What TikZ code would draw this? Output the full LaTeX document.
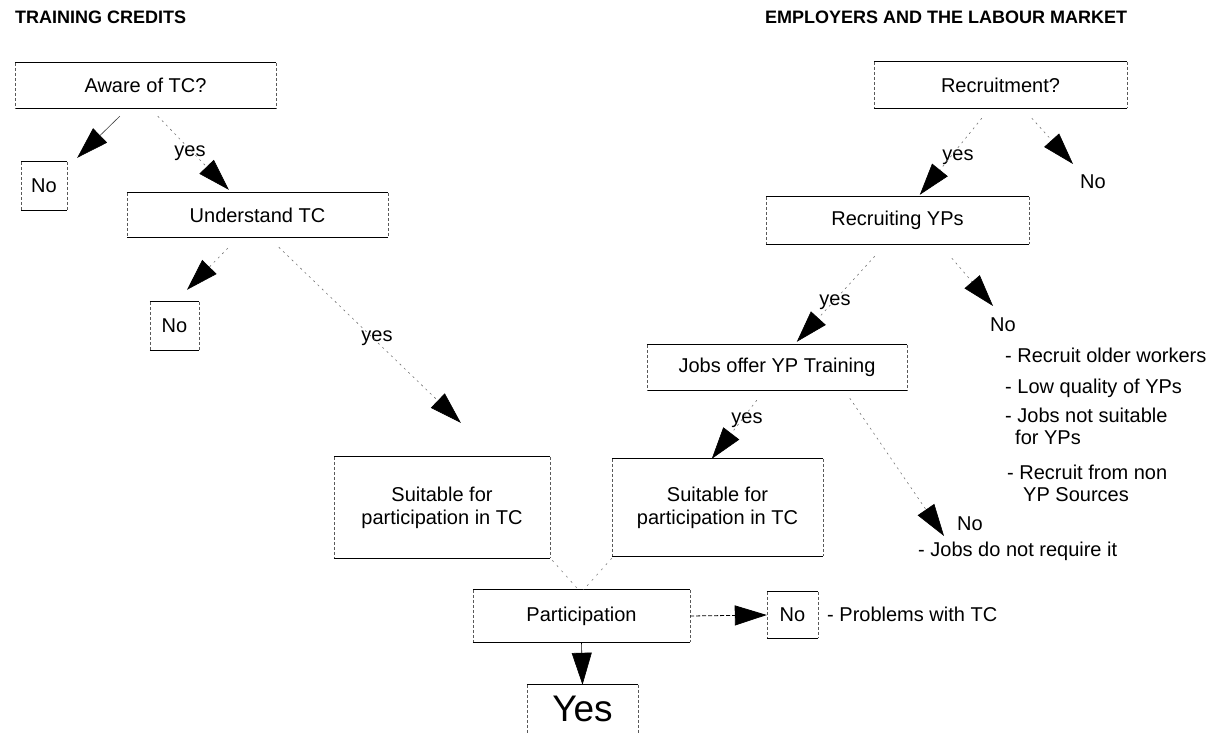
\documentclass[tikz,border=0pt]{standalone}
\usepackage{fontspec}
\setmainfont{Liberation Sans}
\usetikzlibrary{arrows.meta,calc}
\begin{document}
\begin{tikzpicture}[x=1pt,y=-1pt,
  hline/.style={draw=black,line width=1.1pt},
  vline/.style={draw=black!65,line width=0.5pt,dash pattern=on 3pt off 2pt},
  bx/.style={inner sep=0pt, font=\fontsize{20}{23}\selectfont, align=center,
    append after command={
      (\tikzlastnode.north west) edge[hline] (\tikzlastnode.north east)
      (\tikzlastnode.south west) edge[hline] (\tikzlastnode.south east)
      (\tikzlastnode.north west) edge[vline] (\tikzlastnode.south west)
      (\tikzlastnode.north east) edge[vline] (\tikzlastnode.south east)}},
  bxopen/.style={inner sep=0pt, align=center,
    append after command={
      (\tikzlastnode.north west) edge[hline] (\tikzlastnode.north east)
      (\tikzlastnode.north west) edge[vline] (\tikzlastnode.south west)
      (\tikzlastnode.north east) edge[vline] (\tikzlastnode.south east)}},
  lbl/.style={inner sep=0pt, font=\fontsize{20}{23}\selectfont},
  note/.style={inner sep=0pt, anchor=west, align=left, font=\fontsize{20}{22}\selectfont},
  hdr/.style={inner sep=0pt, anchor=west, font=\fontsize{18}{20}\selectfont\bfseries},
  tip/.style={-{Triangle[length=32pt,width=20pt,color=black]}},
  conn/.style={draw=black!55, line width=0.6pt, dash pattern=on 2pt off 4pt, tip},
  connsolid/.style={draw=black!75, line width=0.6pt, tip},
  faint/.style={draw=black!50, line width=0.6pt, dash pattern=on 2pt off 5pt},
]
\useasboundingbox (0,0) rectangle (1207,733);
\clip (0,0) rectangle (1207,733);

% headers
\node[hdr] (h1) at (15,17) {TRAINING CREDITS};
\node[hdr] (h2) at (765,17) {EMPLOYERS AND THE LABOUR MARKET};

% left boxes
\node[bx, minimum width=261pt, minimum height=45pt] (aware) at (145.5,85.5) {Aware of TC?};
\node[bx, minimum width=46pt, minimum height=48pt] (no1) at (44,186) {No};
\node[bx, minimum width=261pt, minimum height=44pt] (understand) at (257.5,215) {Understand TC};
\node[bx, minimum width=49pt, minimum height=48pt] (no2) at (174.5,326) {No};
\node[bx, minimum width=216pt, minimum height=101pt] (suitL) at (442,507.5) {Suitable for\\participation in TC};
\node[bx, minimum width=211pt, minimum height=97pt] (suitR) at (717.5,507.5) {Suitable for\\participation in TC};
\node[bx, minimum width=217pt, minimum height=52pt] (particip) at (581.5,616) {Participation};
\node[bxopen, minimum width=111pt, minimum height=48pt, font=\fontsize{37}{40}\selectfont] (yesbox) at (582.5,709) {\raisebox{-6pt}{Yes}};
\node[bx, minimum width=51pt, minimum height=46pt] (no3) at (792.5,615) {No};
\node[note] (prob) at (827,614) {- Problems with TC};

% right boxes
\node[bx, minimum width=253pt, minimum height=46pt] (recruitment) at (1000.5,85) {Recruitment?};
\node[bx, minimum width=263pt, minimum height=47pt] (recruiting) at (897.5,220.5) {Recruiting YPs};
\node[bx, minimum width=260pt, minimum height=45pt] (jobs) at (777,367.5) {Jobs offer YP Training};

% labels
\node[lbl] (yes1) at (190,153) {yes};
\node[lbl] (yes2) at (377,338) {yes};
\node[lbl] (yes3) at (958,157) {yes};
\node[lbl] (yes4) at (835,302) {yes};
\node[lbl] (yes5) at (747,420) {yes};
\node[lbl] (noR1) at (1093,182) {No};
\node[lbl] (noR2) at (1003,325) {No};
\node[lbl] (noR3) at (970,524) {No};

% notes
\node[note] (n1) at (1005,355) {- Recruit older workers};
\node[note] (n2) at (1005,388) {- Low quality of YPs};
\node[note, anchor=north west] (n3) at (1005,408) {- Jobs not suitable\\\hspace*{10pt}for YPs};
\node[note, anchor=north west] (n4) at (1007,465) {- Recruit from non\\\hspace*{16pt}YP Sources};
\node[note] (n5) at (918,551) {- Jobs do not require it};

% connectors left
\draw[connsolid] ($(aware.south west)+(105,8)$) -- ($(no1.north east)+(10,-4)$);
\draw[conn] ($(aware.south west)+(143,8)$) -- ($(understand.north west)+(102,-3)$);
\draw[conn] ($(understand.south west)+(101,11)$) -- ($(no2.north)+(12.5,-12)$);
\draw[conn] ($(understand.south west)+(152,10)$) -- ($(suitL.north west)+(127,-34)$);

% connectors right
\draw[conn] ($(recruitment.south west)+(108,10)$) -- ($(recruiting.north west)+(154,-2)$);
\draw[conn] ($(recruitment.south west)+(158,10)$) -- ($(noR1)+(-20,-18)$);
\draw[conn] ($(recruiting.south west)+(109,12)$) -- ($(jobs.north west)+(150,-3)$);
\draw[conn] ($(recruiting.south west)+(186,14)$) -- ($(noR2)+(-10,-19)$);
\draw[conn] ($(jobs.south west)+(110,10)$) -- ($(suitR.north west)+(100,0)$);
\draw[conn] ($(jobs.south west)+(203,8)$) -- ($(noR3)+(-26,12)$);

% into participation
\draw[faint] ($(suitL.south east)+(2,2)$) -- ($(particip.north)+(-3,0)$);
\draw[faint] ($(suitR.south west)+(0,2)$) -- ($(particip.north)+(2,0)$);

% out of participation
\draw[draw=black, line width=0.6pt, tip] (particip.south) -- (yesbox.north);
\draw[draw=black, line width=0.8pt, dash pattern=on 4pt off 2pt, tip] (particip.east) -- (no3.west);
\end{tikzpicture}
\end{document}
